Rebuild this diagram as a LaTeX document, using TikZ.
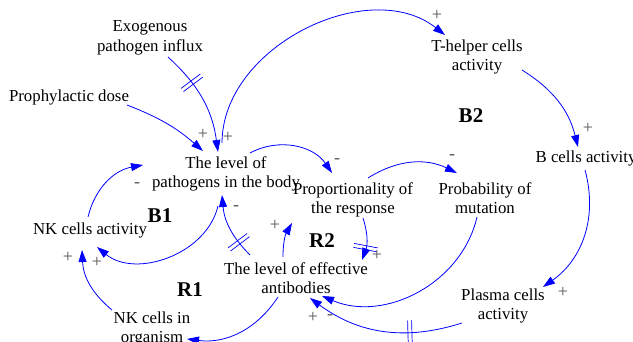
\documentclass[tikz,border=0pt]{standalone}
\usepackage{fontspec}
\setmainfont{Liberation Serif}
\usetikzlibrary{arrows.meta,decorations.markings}
\definecolor{linkblue}{RGB}{0,0,255}
\definecolor{signgray}{RGB}{85,85,85}

\begin{document}
\begin{tikzpicture}[
  x=1pt,y=-1pt,
  every node/.style={align=center,inner sep=1pt},
  var/.style={font=\fontsize{16.8}{19.5}\selectfont},
  looplab/.style={font=\fontsize{21}{24}\selectfont\bfseries},
  sign/.style={font=\fontsize{18}{18}\selectfont,text=signgray},
  arr/.style={draw=linkblue,line width=0.8pt,-{Triangle[length=12pt,width=8pt]}},
  delay/.style={postaction={decorate},decoration={markings,
    mark=at position #1 with {\draw[linkblue,line width=0.7pt,-]
      (-2pt,-12pt)--(-2pt,12pt) (2pt,-12pt)--(2pt,12pt);}}}
]
\useasboundingbox (0,0) rectangle (633,342);

% variables
\node[var] (exo) at (150,38) {Exogenous\\pathogen influx};
\node[var] (proph) at (69,97) {Prophylactic dose};
\node[var] (patho) at (226,174) {The level of\\pathogens in the body};
\node[var] (thelp) at (477,57) {T-helper cells\\activity};
\node[var] (bcell) at (586,158) {B cells activity};
\node[var] (prop) at (353,200) {Proportionality of\\the response};
\node[var] (prob) at (485,198) {Probability of\\mutation};
\node[var] (nka) at (90,230) {NK cells activity};
\node[var] (anti) at (296,278) {The level of effective\\antibodies};
\node[var] (nko) at (152,329) {NK cells in\\organism};
\node[var] (plasma) at (503,306) {Plasma cells\\activity};

% loops
\node[looplab] (b1) at (160,216) {B1};
\node[looplab] (b2) at (471,116) {B2};
\node[looplab] (r1) at (190,290) {R1};
\node[looplab] (r2) at (322,241) {R2};

% links
\draw[arr,delay=0.32] ([shift={(18,19)}]exo.center) to[bend left=20] ([shift={(-8,-22)}]patho.center);
\draw[arr] ([shift={(58,8)}]proph.center) to[bend left=10] ([shift={(-23,-23)}]patho.center);
\draw[arr] ([shift={(-4,-31)}]patho.center) to[bend left=64] ([shift={(-32,-22)}]thelp.center);
\draw[arr] ([shift={(45,13)}]thelp.center) to[bend left=22] ([shift={(-8,-11)}]bcell.center);
\draw[arr] ([shift={(-1,12)}]bcell.center) to[bend left=35] ([shift={(40,-19)}]plasma.center);
\draw[arr,delay=0.33] ([shift={(-41,17)}]plasma.center) to[bend left=27] ([shift={(14,20)}]anti.center);
\draw[arr] ([shift={(-8,19)}]prob.center) to[bend left=50] ([shift={(26,18)}]anti.center);
\draw[arr] ([shift={(24,-21)}]patho.center) to[bend left=42] ([shift={(-21,-27)}]prop.center);
\draw[arr] ([shift={(15,-22)}]prop.center) to[bend left=29] ([shift={(-28,-25)}]prob.center);
\draw[arr,delay=0.7] ([shift={(10,18)}]prop.center) to[bend left=19] ([shift={(66,-18)}]anti.center);
\draw[arr] ([shift={(-13,-21)}]anti.center) to[bend left=15] ([shift={(-61,23)}]prop.center);
\draw[arr,delay=0.25] ([shift={(-46,-23)}]anti.center) to[bend left=20] ([shift={(-4,21)}]patho.center);
\draw[arr] ([shift={(-8,32)}]patho.center) to[bend left=58] ([shift={(7,17)}]nka.center);
\draw[arr] ([shift={(-2,-13)}]nka.center) to[bend left=33] ([shift={(-83,-9)}]patho.center);
\draw[arr] ([shift={(-40,-19)}]nko.center) to[bend left=24] ([shift={(-8,20)}]nka.center);
\draw[arr] ([shift={(-18,19)}]anti.center) to[bend left=32] ([shift={(35,10)}]nko.center);

% polarities
\node[sign] (sg1) at (203,134) {+};
\node[sign] (sg2) at (228,137) {+};
\node[sign] (sg3) at (437,15) {+};
\node[sign] (sg4) at (588,128) {+};
\node[sign] (sg5) at (563,292) {+};
\node[sign] (sg6) at (313,317) {+};
\node[sign] (sg7) at (330,317) {-};
\node[sign] (sg8) at (337,161) {-};
\node[sign] (sg9) at (452,157) {-};
\node[sign] (sg10) at (377,255) {+};
\node[sign] (sg11) at (275,225) {+};
\node[sign] (sg12) at (236,208) {-};
\node[sign] (sg13) at (97,262) {+};
\node[sign] (sg14) at (137,185) {-};
\node[sign] (sg15) at (68,257) {+};
\end{tikzpicture}
\end{document}
